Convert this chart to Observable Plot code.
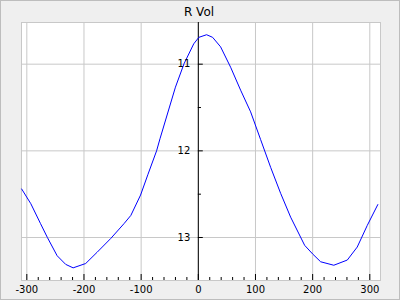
<!DOCTYPE html>
<html>
<head>
<meta charset="utf-8">
<script src="https://cdn.jsdelivr.net/npm/d3@7"></script>
<script src="https://cdn.jsdelivr.net/npm/@observablehq/plot@0.6"></script>
<style>
  html, body { margin: 0; padding: 0; background: #efefef; }
  #chart svg { display: block; background: #efefef; outline: 1px solid #bdbdbd; outline-offset: -1px; }
</style>
</head>
<body>
<div id="chart"></div>
<script>
const title = "R Vol";
const xValues = [-309, -293, -276, -264, -247, -232, -219, -197, -177, -153, -130, -118, -101, -88, -73, -67, -40, -25, -8, 1, 14.5, 25, 39, 56.5, 74, 91.5, 109, 126.5, 144, 161.5, 186, 200, 214, 237, 260.6, 278, 295.6, 314];
const yValues = [12.44, 12.61, 12.84, 13.00, 13.21, 13.31, 13.35, 13.30, 13.17, 13.01, 12.84, 12.745, 12.51, 12.27, 12.00, 11.86, 11.265, 10.995, 10.765, 10.69, 10.66, 10.69, 10.80, 11.035, 11.30, 11.55, 11.87, 12.19, 12.49, 12.765, 13.09, 13.19, 13.28, 13.32, 13.26, 13.11, 12.86, 12.62];
const xMajorTicks = [-300, -200, -100, 0, 100, 200, 300];
const xMinorTicks = d3.range(-300, 301, 20).filter(v => v % 100 !== 0);
const yMajorTicks = [11, 12, 13];
const yMinorTicks = [11.5, 12.5];

const data = xValues.map((x, i) => ({x, y: yValues[i]}));
const font = "DejaVu Sans, sans-serif";
const gridColor = "#c8c8c8";

const chart = Plot.plot({
  width: 400,
  height: 300,
  marginLeft: 21,
  marginRight: 20,
  marginTop: 22,
  marginBottom: 20,
  style: {fontFamily: font, background: "#efefef", color: "black"},
  x: {domain: [-309.3, 318.7], axis: null, label: null},
  y: {domain: [10.519, 13.496], reverse: true, axis: null, label: null},
  marks: [
    Plot.frame({fill: "white", stroke: null}),
    Plot.gridX(xMajorTicks, {stroke: gridColor, strokeOpacity: 1}),
    Plot.gridY(yMajorTicks, {stroke: gridColor, strokeOpacity: 1}),
    Plot.frame({stroke: gridColor}),
    Plot.ruleX([0], {stroke: "black"}),
    Plot.ruleX(xMajorTicks, {stroke: "black", insetTop: 252}),
    Plot.ruleX(xMinorTicks, {stroke: "black", insetTop: 255}),
    Plot.ruleY(yMajorTicks, {x1: 0, x2: 8.7, stroke: "black"}),
    Plot.ruleY(yMinorTicks, {x1: 0, x2: 5.5, stroke: "black"}),
    Plot.line(data, {x: "x", y: "y", stroke: "#0000ff", strokeWidth: 1}),
    Plot.axisX(xMajorTicks, {anchor: "bottom", label: null, tickSize: 0, tickPadding: 5, fontSize: 10, tickFormat: d => String(d), fill: "black"}),
    Plot.text(yMajorTicks, {x: () => 0, y: d => d, text: d => String(d), textAnchor: "end", dx: -8, fontSize: 10, fill: "black"}),
    Plot.text([title], {frameAnchor: "top", lineAnchor: "bottom", dy: -6.5, dx: -2, fontSize: 12, fill: "black"})
  ]
});
document.getElementById("chart").appendChild(chart);
</script>
</body>
</html>
